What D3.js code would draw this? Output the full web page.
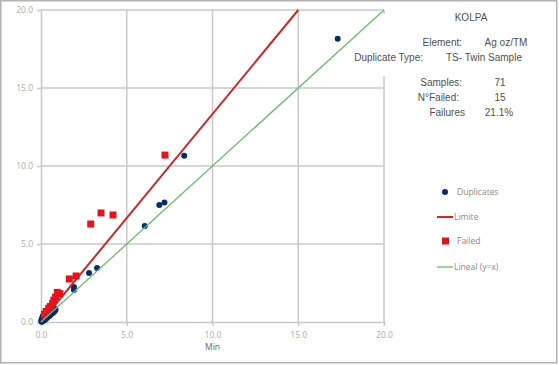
<!DOCTYPE html>
<meta charset="utf-8">
<style>
body { margin: 0; background: #fff; }
svg { display: block; font-family: "Liberation Sans", Arial, sans-serif; }
.grid line { stroke: #c8c8c8; stroke-width: 1.5px; }
.axis path, .axis line { stroke: #c8c8c8; stroke-width: 1.5px; }
.axis text { fill: #ababab; font-size: 8.5px; font-family: "Open Sans", sans-serif; }
.info text { fill: #505050; font-size: 10px; }
.legend text { fill: #8a8a8a; font-size: 8.5px; font-family: "Open Sans", sans-serif; }
</style>
<svg width="559" height="365"></svg>
<script src="https://d3js.org/d3.v7.min.js"></script>
<script>

var svg = d3.select("svg");

var xTicks = [0, 5, 10, 15, 20],
    yTicks = [0, 5, 10, 15, 20];

// duplicates (Min, Max) - failed ones also belong to the 71 samples
var failed = [
  [7.23, 10.7], [3.5, 6.99], [4.2, 6.86], [2.9, 6.28],
  [2.05, 2.95], [1.65, 2.76], [1.1, 1.82], [0.95, 1.9],
  [0.85, 1.6], [0.75, 1.4], [0.68, 1.2], [0.55, 1.0],
  [0.45, 0.88], [0.3, 0.68], [0.2, 0.5]
];
var duplicates = [
  [17.3, 18.15], [8.35, 10.65], [7.2, 7.66], [6.9, 7.5], [6.05, 6.15],
  [3.27, 3.46], [2.8, 3.14], [1.92, 2.24], [1.92, 2.05],
  [0.02, 0.03], [0.05, 0.02], [0.05, 0.1], [0.08, 0.05], [0.1, 0.12],
  [0.1, 0.2], [0.12, 0.08], [0.15, 0.15], [0.15, 0.3], [0.18, 0.22],
  [0.2, 0.12], [0.2, 0.35], [0.22, 0.25], [0.25, 0.18], [0.25, 0.4],
  [0.28, 0.3], [0.3, 0.22], [0.3, 0.45], [0.33, 0.35], [0.35, 0.28],
  [0.38, 0.42], [0.4, 0.33], [0.42, 0.5], [0.45, 0.4], [0.48, 0.45],
  [0.5, 0.38], [0.52, 0.55], [0.55, 0.48], [0.58, 0.6], [0.6, 0.52],
  [0.62, 0.65], [0.65, 0.58], [0.68, 0.7], [0.7, 0.6], [0.72, 0.75],
  [0.75, 0.66], [0.78, 0.8], [0.8, 0.7], [0.82, 0.85], [0.85, 0.78],
  [0.05, 0.06], [0.08, 0.3], [0.12, 0.4], [0.03, 0.15], [0.07, 0.2],
  [0.4, 0.55], [0.6, 0.75]
].concat(failed);

var limitLine = [[0, 0], [15, 20]];
var linealLine = [[0, 0], [20, 20]];

var infoRows = [
  ["Element:", "Ag oz/TM"],
  ["Duplicate Type:", "TS- Twin Sample"],
  ["Samples:", "71"],
  ["N°Failed:", "15"],
  ["Failures", "21.1%"]
];
var legendItems = ["Duplicates", "Limite", "Failed", "Lineal (y=x)"];

var x = d3.scaleLinear().domain([0, 20]).range([41, 384]),
    y = d3.scaleLinear().domain([0, 20]).range([322, 10]);

// outer frame
svg.append("rect")
    .attr("x", 0.75).attr("y", 0.75)
    .attr("width", 556).attr("height", 362)
    .attr("fill", "none").attr("stroke", "#b4b4b4").attr("stroke-width", 1.5);

// gridlines
var grid = svg.append("g").attr("class", "grid");
grid.selectAll(".h").data(yTicks.slice(1)).enter().append("line")
    .attr("x1", x(0)).attr("x2", x(20))
    .attr("y1", d => y(d)).attr("y2", d => y(d));
grid.selectAll(".v").data(xTicks.slice(1)).enter().append("line")
    .attr("y1", y(0)).attr("y2", y(20))
    .attr("x1", d => x(d)).attr("x2", d => x(d));

// white box of the info panel hides the right gridline behind the text
svg.append("rect").attr("x", 352).attr("y", 14).attr("width", 200).attr("height", 62).attr("fill", "#fff");

svg.append("g")
    .attr("class", "axis")
    .attr("transform", "translate(0," + y(0) + ")")
    .call(d3.axisBottom(x).tickValues(xTicks).tickFormat(d3.format(".1f")).tickSize(4).tickSizeOuter(0).tickPadding(6));

svg.append("g")
    .attr("class", "axis")
    .attr("transform", "translate(" + x(0) + ",0)")
    .call(d3.axisLeft(y).tickValues(yTicks).tickFormat(d3.format(".1f")).tickSize(4).tickSizeOuter(0).tickPadding(4));

svg.append("text")
    .attr("x", x(10)).attr("y", 350)
    .attr("text-anchor", "middle")
    .attr("fill", "#666").attr("font-size", "8.5px")
    .attr("font-family", "Open Sans, sans-serif")
    .text("Min");

var line = d3.line().x(d => x(d[0])).y(d => y(d[1]));

// draw order: duplicates, limit, failed, lineal
svg.append("g").selectAll("circle").data(duplicates).enter().append("circle")
    .attr("cx", d => x(d[0])).attr("cy", d => y(d[1]))
    .attr("r", 3).attr("fill", "#0b2a66");

svg.append("path").datum(limitLine)
    .attr("d", line).attr("fill", "none")
    .attr("stroke", "#c62a2a").attr("stroke-width", 2);

svg.append("g").selectAll("rect").data(failed).enter().append("rect")
    .attr("x", d => x(d[0]) - 3.5).attr("y", d => y(d[1]) - 3.5)
    .attr("width", 7).attr("height", 7).attr("fill", "#e3141c");

svg.append("path").datum(linealLine)
    .attr("d", line).attr("fill", "none")
    .attr("stroke", "#6cba6c").attr("stroke-width", 1.3);

// info panel
var info = svg.append("g").attr("class", "info");
info.append("text").attr("x", 471).attr("y", 21).attr("text-anchor", "middle").text("KOLPA");
var rowY = [46, 61, 86, 101, 116];
var labelEnd = [462, 423, 462, 459, 465];
var valX = [506, 484, 500, 500, 499];
info.selectAll(".lab").data(infoRows).enter().append("text")
    .attr("x", (d, i) => labelEnd[i]).attr("y", (d, i) => rowY[i])
    .attr("text-anchor", "end").text(d => d[0]);
info.selectAll(".val").data(infoRows).enter().append("text")
    .attr("x", (d, i) => valX[i]).attr("y", (d, i) => rowY[i])
    .attr("text-anchor", "middle").text(d => d[1]);

// legend
var legend = svg.append("g").attr("class", "legend");
var legY = [192, 217, 241, 267];
legendItems.forEach(function(name, i) {
  var g = legend.append("g").attr("transform", "translate(0," + legY[i] + ")");
  if (i === 0) g.append("circle").attr("cx", 445).attr("r", 3).attr("fill", "#0b2a66");
  if (i === 1) g.append("line").attr("x1", 437).attr("x2", 453).attr("stroke", "#c62a2a").attr("stroke-width", 2);
  if (i === 2) g.append("rect").attr("x", 442).attr("y", -3.5).attr("width", 7).attr("height", 7).attr("fill", "#e3141c");
  if (i === 3) g.append("line").attr("x1", 437).attr("x2", 453).attr("stroke", "#6cba6c").attr("stroke-width", 1.3);
  g.append("text").attr("x", i === 0 || i === 2 ? 457 : 454).attr("dy", "0.35em").text(name);
});

</script>
